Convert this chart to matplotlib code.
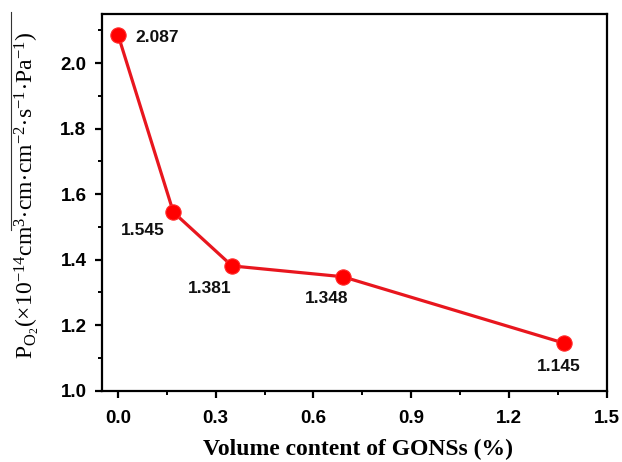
import matplotlib
matplotlib.use("Agg")
import matplotlib.pyplot as plt
from matplotlib.ticker import MultipleLocator
from matplotlib.lines import Line2D

x_vals = [0.0, 0.17, 0.35, 0.69, 1.37]
y_vals = [2.087, 1.545, 1.381, 1.348, 1.145]
labels = ["2.087", "1.545", "1.381", "1.348", "1.145"]
label_offsets = [(28, -2), (-22, -13), (-16, -16), (-12, -16), (-4, -17)]
x_ticks = [0.0, 0.3, 0.6, 0.9, 1.2, 1.5]
y_ticks = [1.0, 1.2, 1.4, 1.6, 1.8, 2.0]

plt.rcParams['mathtext.fontset'] = 'custom'
plt.rcParams['mathtext.rm'] = 'Liberation Serif'
plt.rcParams['mathtext.it'] = 'Liberation Serif:italic'
plt.rcParams['mathtext.bf'] = 'Liberation Serif:bold'

fig = plt.figure(figsize=(6.22, 4.62), dpi=100)
ax = fig.add_axes([0.1635, 0.1543, 0.9754 - 0.1635, 0.9697 - 0.1543])

ax.plot(x_vals, y_vals, color='#e8161e', lw=2.3, zorder=2)
ax.plot(x_vals, y_vals, 'o', color='#ff0000', markersize=11, markeredgecolor='#ff2a2a',
        markeredgewidth=0.8, zorder=3)

for xv, yv, lab, off in zip(x_vals, y_vals, labels, label_offsets):
    ax.annotate(lab, (xv, yv), xytext=off, textcoords='offset points',
                ha='center', va='center', fontsize=12.5, fontweight='bold',
                family='Liberation Sans', color='#111111')

ax.set_xlim(-0.05, 1.5)
ax.set_ylim(1.0, 2.15)
ax.set_xticks(x_ticks)
ax.set_yticks(y_ticks)
ax.set_xticklabels([f"{t:.1f}" for t in x_ticks])
ax.set_yticklabels([f"{t:.1f}" for t in y_ticks])
ax.xaxis.set_minor_locator(MultipleLocator(0.15))
ax.yaxis.set_minor_locator(MultipleLocator(0.1))

for s in ax.spines.values():
    s.set_linewidth(1.6)
ax.tick_params(which='major', direction='out', length=5, width=1.6,
               top=False, right=False, pad=6)
ax.tick_params(axis='x', which='major', pad=9)
ax.tick_params(which='minor', direction='out', length=3, width=1.4,
               top=False, right=False)
for lab in ax.get_xticklabels() + ax.get_yticklabels():
    lab.set_fontfamily('Liberation Sans')
    lab.set_fontweight('bold')
    lab.set_fontsize(13.5)

ax.set_xlabel("Volume content of GONSs (%)", family='Liberation Serif',
              fontweight='bold', fontsize=17)
ax.xaxis.set_label_coords(0.507, -0.127)
ax.set_ylabel(r"$\mathregular{P_{O_2}(\times10^{-14}cm^{3}\!\cdot\!cm\!\cdot\!cm^{-2}\!\cdot\!s^{-1}\!\cdot\!Pa^{-1})}$",
              family='Liberation Serif', fontsize=17)
ax.yaxis.set_label_coords(-0.12, 0.52)

# overline artifact next to the y label
fig.add_artist(Line2D([11 / 622, 11 / 622], [1 - 12 / 462, 1 - 230 / 462],
                      color='#333333', lw=0.8, transform=fig.transFigure))

fig.savefig("out.png", dpi=100)
